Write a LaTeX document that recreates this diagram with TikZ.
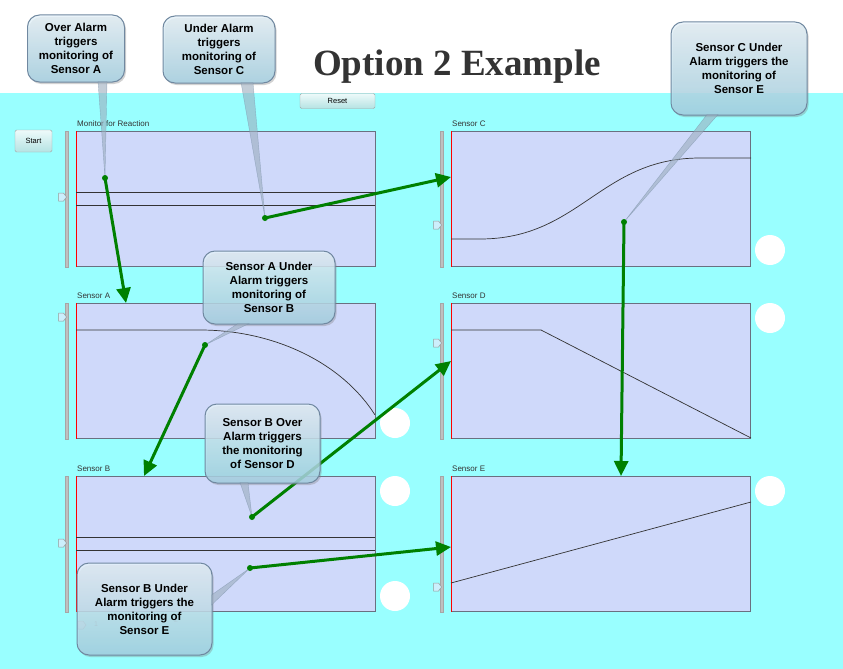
\documentclass[tikz,border=0pt]{standalone}
\usepackage{fontspec}
\setmainfont{Liberation Serif}
\setsansfont{Liberation Sans}
\usepackage{tikz}
\usetikzlibrary{arrows.meta,shadows}
\definecolor{sky}{HTML}{99FFFF}
\definecolor{plot}{HTML}{CFD9FA}
\definecolor{frame}{HTML}{6A7080}
\definecolor{grn}{HTML}{008000}
\definecolor{ink}{HTML}{333333}
\definecolor{bubtop}{HTML}{E6F2F9}
\definecolor{bubbot}{HTML}{A4D2E4}
\definecolor{bubline}{HTML}{7088A0}
\definecolor{btntop}{HTML}{EEFAFA}
\definecolor{btnbot}{HTML}{B5E3E3}
\tikzset{
  panel/.style={draw=frame, fill=plot, line width=0.8pt, minimum width=299pt, minimum height=135pt, inner sep=0pt, anchor=north west},
  plab/.style={font=\sffamily\fontsize{8}{9}\selectfont, text=black!80, inner sep=1pt, anchor=south west, yshift=3pt},
  trace/.style={draw=black!80, line width=0.7pt},
  edge/.style={draw=red, line width=0.8pt},
  bar/.style={fill=black!25, draw=black!35, line width=0.3pt},
  knob/.style={fill=white!80!cyan, draw=black!40, line width=0.5pt},
  lamp/.style={circle, fill=white, minimum size=30pt, inner sep=0pt},
  btn/.style={draw=black!35, rounded corners=1.5pt, top color=btntop, bottom color=btnbot, font=\sffamily\fontsize{7.5}{8}\selectfont, inner sep=0pt},
  bubble/.style={draw=bubline, line width=1pt, rounded corners=12pt, top color=bubtop, bottom color=bubbot, fill opacity=0.8, text opacity=1, drop shadow={opacity=0.35, shadow xshift=1.5pt, shadow yshift=-2pt}, font=\sffamily\bfseries\fontsize{11.5}{14}\selectfont, align=center, inner sep=0pt},
  tail/.style={fill=bubline!70!white, fill opacity=0.6, draw=bubline, draw opacity=0.5, line width=0.4pt},
  dot/.style={circle, fill=grn, inner sep=0pt, minimum size=6pt},
  flow/.style={draw=grn, line width=3pt, -{Triangle[length=15pt,width=14pt]}},
  tiny/.style={font=\sffamily\fontsize{7}{8}\selectfont, text=black!50, inner sep=0pt},
}
\begin{document}
\begin{tikzpicture}[x=1pt,y=-1pt]
  % canvas
  \useasboundingbox (0,0) rectangle (843,669);
  \fill[white] (0,0) rectangle (843,93);
  \fill[sky] (0,93) rectangle (843,669);
  \node[font=\bfseries\fontsize{37}{40}\selectfont, text=ink, anchor=base] (ttl) at (457,75) {Option 2 Example};

  % buttons
  \node[btn, minimum width=75pt, minimum height=15pt] (reset) at (337.5,101) {Reset};
  \node[btn, minimum width=37pt, minimum height=22pt] (start) at (33.5,141) {Start};

  % plot panels
  \node[panel, label={[plab]north west:Monitor for Reaction}] (mon) at (76,131) {};
  \node[panel, label={[plab]north west:Sensor A}] (sA) at (76,303) {};
  \node[panel, label={[plab]north west:Sensor B}] (sB) at (76,476) {};
  \node[panel, label={[plab]north west:Sensor C}] (sC) at (451,131) {};
  \node[panel, label={[plab]north west:Sensor D}] (sD) at (451,303) {};
  \node[panel, label={[plab]north west:Sensor E}] (sE) at (451,476) {};
  \foreach \p/\k in {mon/66,sA/14,sB/67,sC/94,sD/40,sE/111}{
    \draw[edge] (\p.north west) -- (\p.south west);
    \fill[bar] ([xshift=-11pt]\p.north west) rectangle ([xshift=-8pt]\p.south west);
    \coordinate (k) at ([xshift=-9.5pt,yshift=-\k pt]\p.north west);
    \draw[knob] (k) ++(-8,-4) -- ++(5,0) -- ++(3,4) -- ++(-3,4) -- ++(-5,0) -- cycle;
  }

  % traces
  \draw[trace] (76,192) -- (375,192);
  \draw[trace] (76,205) -- (375,205);
  \draw[trace] (76,330) -- plot[domain=0:0.897, samples=40] ({200+195*\x},{330+152*(1-sqrt(1-\x*\x))});
  \draw[trace] (76,537) -- (375,537);
  \draw[trace] (76,550) -- (375,550);
  \draw[trace] (451,239) -- (480,239) .. controls (580,239) and (600,158) .. (700,158) -- (751,158);
  \draw[trace] (451,330) -- (541,330) -- (751,438);
  \draw[trace] (451,583) -- (751,502);

  % alarm lamps
  \node[lamp] (lA) at (395,423) {};
  \node[lamp] (lB1) at (395,491) {};
  \node[lamp] (lB2) at (395,596) {};
  \node[lamp] (lC) at (770,250) {};
  \node[lamp] (lD) at (770,318) {};
  \node[lamp] (lE) at (770,491) {};

  % slider under the last bubble
  \draw[knob] (78,621) -- (83,621) -- (86,625) -- (83,629) -- (78,629) -- cycle;
  \node[tiny] (n1) at (96,624) {1};
  \node[tiny] (n2) at (176,620) {2};

  % trigger points and arrow tips
  \coordinate (p1) at (105,178);
  \coordinate (p2) at (265,218);
  \coordinate (p3) at (624,222);
  \coordinate (p4) at (205,345);
  \coordinate (p5) at (252,517);
  \coordinate (p6) at (250,568);
  \coordinate (t1) at ([xshift=50pt]sA.north west);
  \coordinate (t2) at ([yshift=-46pt]sC.north west);
  \coordinate (t3) at ([xshift=68pt]sB.north west);
  \coordinate (t4) at ([yshift=-58pt]sD.north west);
  \coordinate (t5) at ([yshift=-71pt]sE.north west);
  \coordinate (t6) at ([xshift=170pt]sE.north west);

  \draw[flow] (p1) -- (t1);
  \draw[flow] (p2) -- (t2);
  \draw[flow] (p3) -- (t6);
  \draw[flow] (p4) -- (t3);
  \draw[flow] (p5) -- (t4);
  \draw[flow] (p6) -- (t5);

  % callouts
  \node[bubble, minimum width=97pt, minimum height=67pt] (c1) at (76,48.5) {Over Alarm\\triggers\\monitoring of\\Sensor A};
  \node[bubble, minimum width=112pt, minimum height=67pt] (c2) at (219,49.5) {Under Alarm\\triggers\\monitoring of\\Sensor C};
  \node[bubble, minimum width=136pt, minimum height=93pt] (c3) at (739,68.5) {Sensor C Under\\Alarm triggers the\\monitoring of\\Sensor E};
  \node[bubble, minimum width=132pt, minimum height=73pt] (c4) at (269,287.5) {Sensor A Under\\Alarm triggers\\monitoring of\\Sensor B};
  \node[bubble, minimum width=115pt, minimum height=79pt] (c5) at (262.5,443.5) {Sensor B Over\\Alarm triggers\\the monitoring\\of Sensor D};
  \node[bubble, minimum width=135pt, minimum height=92pt] (c6) at (144.5,609) {Sensor B Under\\Alarm triggers the\\monitoring of\\Sensor E};

  \fill[tail] ([xshift=22pt,yshift=1pt]c1.south) -- ([xshift=31pt,yshift=1pt]c1.south) -- (p1) -- cycle;
  \fill[tail] ([xshift=22pt,yshift=1pt]c2.south) -- ([xshift=34pt,yshift=1pt]c2.south) -- (p2) -- cycle;
  \fill[tail] ([xshift=-32pt,yshift=1pt]c3.south) -- ([xshift=-21pt,yshift=1pt]c3.south) -- (p3) -- cycle;
  \fill[tail] ([xshift=-31pt,yshift=1pt]c4.south) -- ([xshift=-20pt,yshift=1pt]c4.south) -- (p4) -- cycle;
  \fill[tail] ([xshift=-22.5pt,yshift=1pt]c5.south) -- ([xshift=-14.5pt,yshift=1pt]c5.south) -- (p5) -- cycle;
  \fill[tail] ([xshift=-1pt,yshift=14pt]c6.east) -- ([xshift=-1pt,yshift=4pt]c6.east) -- (p6) -- cycle;

  \foreach \i in {1,...,6}
    \node[dot] (d\i) at (p\i) {};
\end{tikzpicture}
\end{document}
